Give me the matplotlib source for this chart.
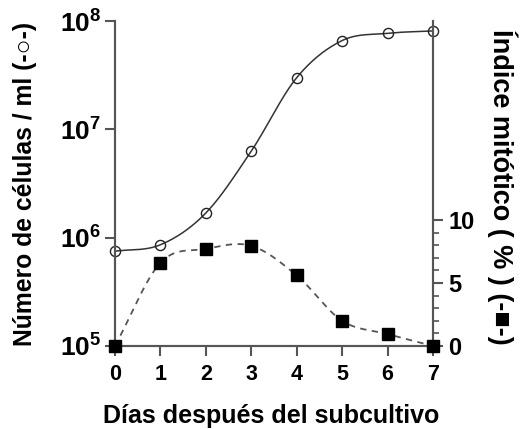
import numpy as np
import matplotlib
matplotlib.use("Agg")
from matplotlib import pyplot as plt
from matplotlib.ticker import FixedLocator, NullLocator

dias = [0, 1, 2, 3, 4, 5, 6, 7]
celulas = [7.5e5, 8.6e5, 1.69e6, 6.3e6, 3.0e7, 6.6e7, 7.7e7, 8.1e7]
indice = [0.0, 6.6, 7.7, 7.95, 5.6, 2.0, 0.95, 0.0]

plt.rcParams['font.family'] = ['Liberation Sans', 'DejaVu Sans']
plt.rcParams['font.weight'] = 'bold'
plt.rcParams['mathtext.fontset'] = 'custom'
plt.rcParams['mathtext.rm'] = 'Liberation Sans:bold'
plt.rcParams['mathtext.bf'] = 'Liberation Sans:bold'
plt.rcParams['mathtext.it'] = 'Liberation Sans:bold'


def suave(x, y, n=30):
    # curva Catmull-Rom entre los puntos
    x = np.asarray(x, float)
    y = np.asarray(y, float)
    px = np.concatenate([[2 * x[0] - x[1]], x, [2 * x[-1] - x[-2]]])
    py = np.concatenate([[2 * y[0] - y[1]], y, [2 * y[-1] - y[-2]]])
    xs, ys = [], []
    t = np.linspace(0, 1, n)
    for i in range(1, len(px) - 2):
        for arr, out in ((px, xs), (py, ys)):
            p0, p1, p2, p3 = arr[i - 1:i + 3]
            out.extend(0.5 * ((2 * p1) + (-p0 + p2) * t
                              + (2 * p0 - 5 * p1 + 4 * p2 - p3) * t ** 2
                              + (-p0 + 3 * p1 - 3 * p2 + p3) * t ** 3))
    return np.array(xs), np.array(ys)


fig = plt.figure(figsize=(5.22, 4.29), dpi=100)
ax = fig.add_axes([0.2203, 0.1935, 0.6092, 0.7575])
ax2 = ax.twinx()

gris = "#555555"

cx, cy = suave(dias, np.log10(celulas))
ax.plot(cx, 10 ** cy, color="#333333", lw=1.1, clip_on=False)
ax.plot(dias, celulas, 'o', ms=7.3, mfc='none', mec='#222222', mew=1.0, clip_on=False)

ix, iy = suave(dias, indice)
ax2.plot(ix, iy, color="#555555", lw=1.3, ls=(0, (3.5, 3)), clip_on=False)
ax2.plot(dias, indice, 's', ms=8.5, color='black', clip_on=False, zorder=5)

ax.set_yscale('log')
ax.set_ylim(1e5, 1e8)
ax.set_xlim(0, 7)
ax2.set_ylim(0, 25.8)

ax.yaxis.set_major_locator(FixedLocator([1e5, 1e6, 1e7, 1e8]))
ax.yaxis.set_minor_locator(NullLocator())
ax.set_yticklabels([r'$10^{5}$', r'$10^{6}$', r'$10^{7}$', r'$10^{8}$'])
ax.set_xticks(dias)

ax2.yaxis.set_major_locator(FixedLocator([0, 5, 10]))
ax2.yaxis.set_minor_locator(FixedLocator([1, 2, 3, 4, 6, 7, 8, 9]))

for a in (ax, ax2):
    for s in a.spines.values():
        s.set_color(gris)
        s.set_linewidth(1.5)
ax.spines['top'].set_visible(False)
ax2.spines['top'].set_visible(False)

ax.tick_params(axis='x', which='major', length=7, width=1.5, color=gris,
               labelsize=15.5, pad=6)
ax.tick_params(axis='y', which='major', length=7, width=1.5, color=gris,
               labelsize=19, pad=3)
ax2.tick_params(axis='y', which='major', length=7, width=1.5, color=gris,
                labelsize=17, pad=4)
ax2.tick_params(axis='y', which='minor', length=4, width=1.2, color=gris)

ax.set_xlabel("Días después del subcultivo", fontsize=18, fontweight='bold')
ax.set_ylabel("Número de células / ml (-○-)", fontsize=17.8, fontweight='bold')
ax2.set_ylabel("Índice mitótico ( % ) (-■-)", fontsize=19.5, fontweight='bold',
               rotation=-90)
ax.xaxis.set_label_coords(0.49, -0.18)
ax.yaxis.set_label_coords(-0.245, 0.5)
ax2.yaxis.set_label_coords(1.267, 0.49)

fig.savefig("out.png", dpi=100)
